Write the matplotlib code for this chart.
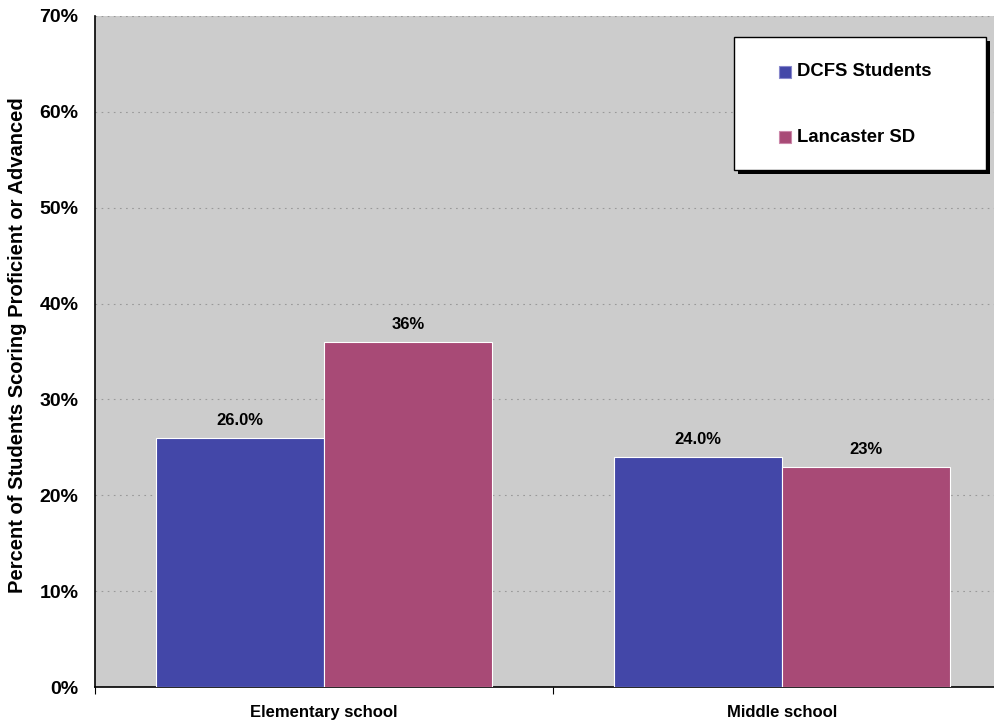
import numpy as np
import matplotlib.pyplot as plt
from matplotlib.patches import Rectangle

plt.rcParams['font.family'] = ['Liberation Sans', 'DejaVu Sans']

categories = ["Elementary school", "Middle school"]
dcfs = [26.0, 24.0]
lancaster = [36, 23]
dcfs_labels = ["26.0%", "24.0%"]
lancaster_labels = ["36%", "23%"]

blue = "#4347A8"
pink = "#A84A76"

fig = plt.figure(figsize=(9.95, 7.23), dpi=100)
W, H = 995, 723
ax = fig.add_axes([95 / W, 1 - 687 / H, 916 / W, (687 - 16) / H])
ax.set_facecolor("#CCCCCC")

x = np.arange(len(categories))
bw = 0.367
ax.bar(x - bw / 2, dcfs, bw, color=blue, edgecolor="white", linewidth=0.8, zorder=3)
ax.bar(x + bw / 2, lancaster, bw, color=pink, edgecolor="white", linewidth=0.8, zorder=3)

for i in range(len(categories)):
    ax.text(x[i] - bw / 2, dcfs[i] + 1.0, dcfs_labels[i], ha="center", va="bottom",
            fontsize=12, fontweight="bold")
    ax.text(x[i] + bw / 2, lancaster[i] + 1.0, lancaster_labels[i], ha="center", va="bottom",
            fontsize=12, fontweight="bold")

ax.set_xlim(-0.5, 1.5)
ax.set_ylim(0, 70)
ax.set_yticks(np.arange(0, 71, 10))
ax.set_yticklabels([f"{v}%" for v in range(0, 71, 10)], fontsize=14, fontweight="bold")
ax.tick_params(axis="y", length=0, pad=12)
ax.set_xticks([-0.5, 0.5, 1.5])
ax.set_xticklabels([])
ax.tick_params(axis="x", length=5, direction="out")
for i, c in enumerate(categories):
    ax.text(x[i], -1.9, c, ha="center", va="top", fontsize=12, fontweight="bold")

ax.grid(axis="y", color="#999999", linestyle=(0, (1.5, 4)), linewidth=0.8, zorder=1)
for s in ["top", "right"]:
    ax.spines[s].set_visible(False)
ax.spines["left"].set_linewidth(1.2)
ax.spines["bottom"].set_linewidth(1.2)

fig.text(18 / W, 1 - 345 / H, "Percent of Students Scoring Proficient or Advanced",
         rotation=90, ha="center", va="center", fontsize=14.5, fontweight="bold")

# legend box with shadow
lx0, ly0, lx1, ly1 = 734 / W, 1 - 170 / H, 986 / W, 1 - 37 / H
fig.patches.append(Rectangle((lx0 + 4 / W, ly0 - 4 / H), lx1 - lx0, ly1 - ly0,
                             transform=fig.transFigure, facecolor="black", edgecolor="none", zorder=5))
fig.patches.append(Rectangle((lx0, ly0), lx1 - lx0, ly1 - ly0, transform=fig.transFigure,
                             facecolor="white", edgecolor="black", linewidth=1, zorder=6))
for name, col, yy in [("DCFS Students", blue, 72), ("Lancaster SD", pink, 137)]:
    fig.patches.append(Rectangle((779 / W, 1 - (yy + 6) / H), 12 / W, 12 / H,
                                 transform=fig.transFigure, facecolor=col,
                                 edgecolor="#8888cc" if col == blue else "#cc88aa",
                                 linewidth=0.8, zorder=7))
    fig.text(797 / W, 1 - yy / H, name, ha="left", va="center", fontsize=13.3,
             fontweight="bold", zorder=8)

fig.savefig("out.png", dpi=100)
